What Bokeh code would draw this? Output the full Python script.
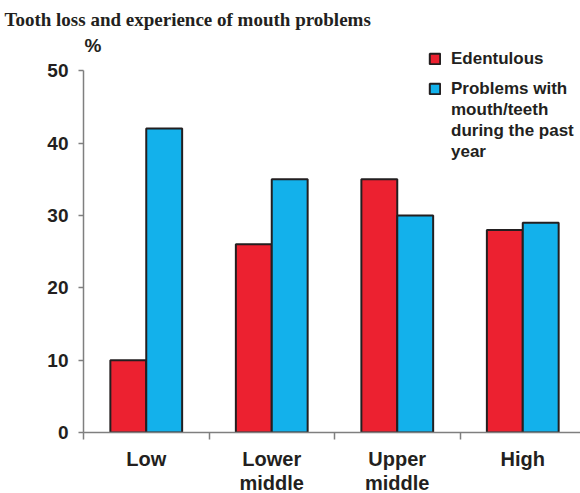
from bokeh.plotting import figure
from bokeh.models import ColumnDataSource, FixedTicker, Legend, LegendItem
from bokeh.core.properties import value
from bokeh.transform import dodge
from bokeh.embed import file_html
from bokeh.resources import INLINE

categories = ["Low", "Lower\nmiddle", "Upper\nmiddle", "High"]
edentulous = [10, 26, 35, 28]
problems = [42, 35, 30, 29]
y_ticks = [0, 10, 20, 30, 40, 50]
y_unit = "%"
series_names = ["Edentulous", "Problems with\nmouth/teeth\nduring the past\nyear"]
title_text = "Tooth loss and experience of mouth problems"

RED = "#ec2130"
BLUE = "#13b1eb"
DARK = "#231f20"
GRAY = "#7f7f7f"

pos = [i + 0.5 for i in range(len(categories))]
src = ColumnDataSource(dict(x=pos, ed=edentulous, pr=problems))

p = figure(frame_width=497, frame_height=398, x_range=(0, 3.96), y_range=(0, 55),
           output_backend="svg", toolbar_location=None,
           min_border_left=83, min_border_top=34, min_border_bottom=10, min_border_right=0)
p.grid.visible = False
p.outline_line_color = None

bw = 0.286
r1 = p.vbar(x=dodge("x", -bw / 2, range=p.x_range), top="ed", bottom=0, width=bw, source=src,
            fill_color=RED, line_color=DARK, line_width=2)
r2 = p.vbar(x=dodge("x", bw / 2, range=p.x_range), top="pr", bottom=0, width=bw, source=src,
            fill_color=BLUE, line_color=DARK, line_width=2)

# unit label above the y axis (kept inside the frame so it is not clipped)
p.text(x=[0], y=[y_ticks[-1]], text=[y_unit], x_offset=1, y_offset=-15,
       text_align="left", text_baseline="bottom",
       text_font=value("Liberation Sans"), text_font_size=value("19px"),
       text_font_style="bold", text_color=DARK)

# title
p.title.text = title_text
p.title.text_font = "Liberation Serif"
p.title.text_font_size = "19px"
p.title.text_font_style = "bold"
p.title.text_color = DARK
p.title.align = "left"
p.title.offset = -79
p.title.standoff = 9

# x axis
xa = p.xaxis[0]
xa.ticker = FixedTicker(ticks=pos, minor_ticks=[0, 1, 2, 3, 4])
xa.major_label_overrides = dict(zip(pos, categories))
xa.major_tick_out = 0
xa.major_tick_in = 0
xa.minor_tick_out = 7
xa.minor_tick_in = 0
xa.minor_tick_line_color = GRAY
xa.minor_tick_line_width = 1.5
xa.axis_line_color = GRAY
xa.axis_line_width = 1.5
xa.major_label_text_font = "Liberation Sans"
xa.major_label_text_font_size = "20px"
xa.major_label_text_font_style = "bold"
xa.major_label_text_color = DARK
xa.major_label_text_line_height = 1.1
xa.major_label_standoff = 8

# y axis
ya = p.yaxis[0]
ya.ticker = FixedTicker(ticks=y_ticks, minor_ticks=[])
ya.bounds = (0, 50)
ya.major_tick_out = 5
ya.major_tick_in = 0
ya.major_tick_line_color = GRAY
ya.major_tick_line_width = 1.5
ya.axis_line_color = GRAY
ya.axis_line_width = 1.5
ya.major_label_text_font = "Liberation Sans"
ya.major_label_text_font_size = "19px"
ya.major_label_text_font_style = "bold"
ya.major_label_text_color = DARK
ya.major_label_standoff = 10

legend_style = dict(padding=0, margin=0, spacing=0, glyph_width=13, glyph_height=13,
                    label_standoff=10, label_height=21, border_line_color=None,
                    background_fill_alpha=0, label_text_font="Liberation Sans",
                    label_text_font_size="17px", label_text_font_style="bold",
                    label_text_color=DARK)

lines2 = series_names[1].split("\n")
legend1 = Legend(items=[LegendItem(label=series_names[0], renderers=[r1])],
                 location=(345, 363), **legend_style)
legend2 = Legend(items=[LegendItem(label=lines2[0], renderers=[r2])] +
                       [LegendItem(label=t, renderers=[]) for t in lines2[1:]],
                 location=(345, 270), **legend_style)
p.add_layout(legend1)
p.add_layout(legend2)

open("out.html", "w").write(file_html(p, INLINE))
